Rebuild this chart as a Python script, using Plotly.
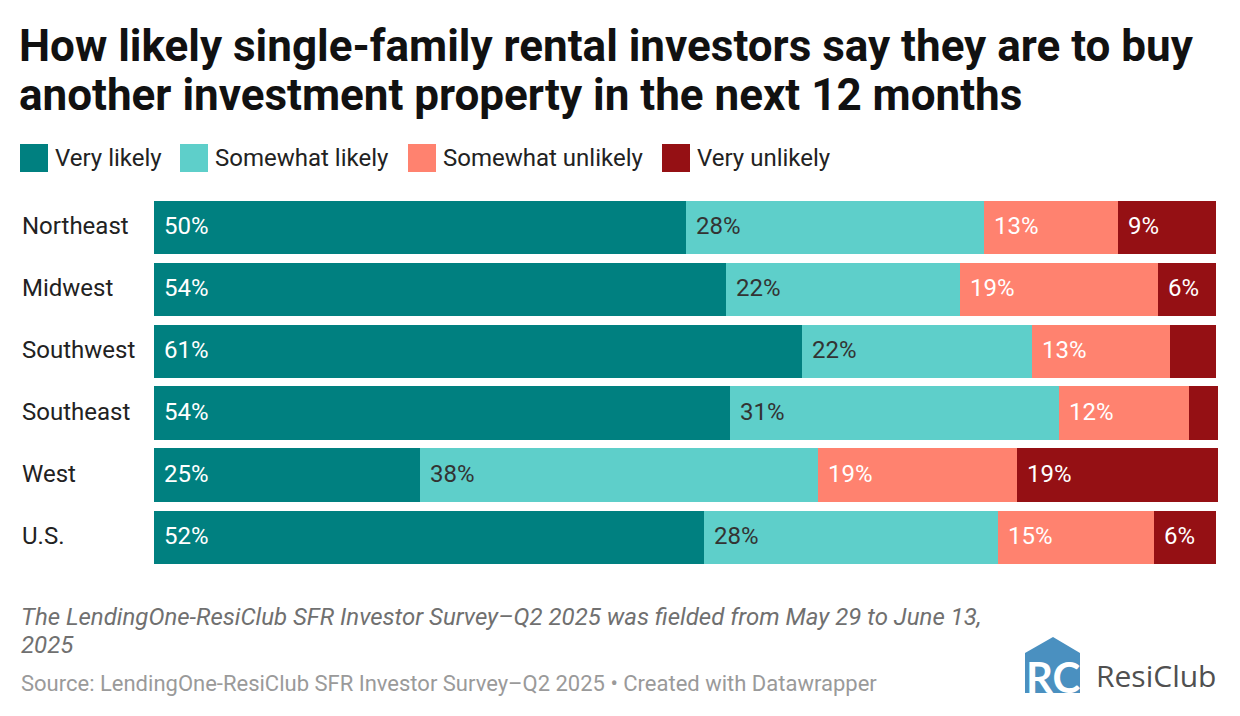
import plotly.graph_objects as go

# data
regions = ["Northeast", "Midwest", "Southwest", "Southeast", "West", "U.S."]
series_names = ["Very likely", "Somewhat likely", "Somewhat unlikely", "Very unlikely"]
very_likely = [50.1, 53.9, 61.0, 54.2, 25.0, 51.8]
somewhat_likely = [28.1, 22.0, 21.7, 31.0, 37.5, 27.7]
somewhat_unlikely = [12.6, 18.6, 13.0, 12.3, 18.8, 14.7]
very_unlikely = [9.2, 5.5, 4.3, 2.7, 18.9, 5.8]

colors = ["#008080", "#5ecfca", "#ff826f", "#951014"]
label_colors = ["#ffffff", "#333333", "#ffffff", "#ffffff"]

title_lines = ["How likely single-family rental investors say they are to buy",
               "another investment property in the next 12 months"]
note_lines = ["The LendingOne-ResiClub SFR Investor Survey\u2013Q2 2025 was fielded from May 29 to June 13,",
              "2025"]
source = "Source: LendingOne-ResiClub SFR Investor Survey\u2013Q2 2025 \u2022 Created with Datawrapper"

FONT = "Roboto"

# the page has an 8px body margin, so the figure sits at (8, 8)
OFF = 8
FIG_W, FIG_H = 1240 - OFF, 716 - OFF

# plot area in page pixels (100% ends at 1216, a few bars run 2px past it)
L, R, T, B = 154, 1218, 196, 568
X_MAX = 100 * (R - L) / (1216 - L)


def px(x):
    return (x - L) / (R - L)


def py(y):
    return (B - y) / (B - T)


all_series = [very_likely, somewhat_likely, somewhat_unlikely, very_unlikely]

fig = go.Figure()
for name, vals, col in zip(series_names, all_series, colors):
    fig.add_trace(go.Bar(
        y=regions, x=vals, name=name, orientation="h",
        marker=dict(color=col, line=dict(width=0)),
        hoverinfo="skip", showlegend=False,
    ))

annotations = []


def text(x, y, s, size, color, family=FONT, anchor="left"):
    annotations.append(dict(
        x=px(x), y=py(y), xref="paper", yref="paper", text=s,
        showarrow=False, xanchor=anchor, yanchor="middle", align="left",
        font=dict(family=family, size=size, color=color),
    ))


# value labels at left of each segment
for i, region in enumerate(regions):
    start = 0
    for s, vals in enumerate(all_series):
        v = vals[i]
        if v >= 5:
            annotations.append(dict(
                x=start, y=region, xref="x", yref="y", text=f"{v:.0f}%",
                showarrow=False, xanchor="left", xshift=8, yshift=1,
                font=dict(family=FONT, size=24, color=label_colors[s]),
            ))
        start += v

# category labels (left aligned)
for region in regions:
    annotations.append(dict(
        x=px(20), y=region, xref="paper", yref="y", text=region,
        showarrow=False, xanchor="left", yshift=1,
        font=dict(family=FONT, size=24, color="#222222"),
    ))

# title
text(17, 46, f"<b>{title_lines[0]}</b>", 44, "#111111")
text(17, 95, f"<b>{title_lines[1]}</b>", 44, "#111111")

# legend
legend_x = [20, 180, 408, 662]
shapes = []
for name, col, lx in zip(series_names, colors, legend_x):
    shapes.append(dict(
        type="rect", xref="paper", yref="paper",
        x0=px(lx), x1=px(lx + 28), y0=py(172), y1=py(144),
        fillcolor=col, line=dict(width=0),
    ))
    text(lx + 33, 158, name, 24, "#222222")

# notes and source
text(19, 617, f"<i>{note_lines[0]}</i>", 24, "#707070")
text(19, 645, f"<i>{note_lines[1]}</i>", 24, "#707070")
text(19, 683, source, 22, "#9a9a9a")

# ResiClub logo
def pp(x, y):
    return f"{px(x):.5f},{py(y):.5f}"


house = (f"M {pp(1025, 653)} L {pp(1053, 637)} L {pp(1080, 653)} "
         f"L {pp(1080, 693)} L {pp(1025, 693)} Z")
shapes.append(dict(type="path", xref="paper", yref="paper", path=house,
                   fillcolor="#4a90c0", line=dict(width=0)))
text(1053, 677, "<b>RC</b>", 42, "#ffffff", family="Lato", anchor="center")
text(1094, 675, "ResiClub", 30, "#505050", family="Open Sans")

fig.update_layout(
    barmode="stack",
    bargap=0.145,
    width=FIG_W, height=FIG_H,
    margin=dict(l=L - OFF, r=1240 - R, t=T - OFF, b=716 - B, pad=0),
    paper_bgcolor="white", plot_bgcolor="white",
    xaxis=dict(range=[0, X_MAX], visible=False, fixedrange=True),
    yaxis=dict(autorange="reversed", visible=False, fixedrange=True),
    annotations=annotations,
    shapes=shapes,
    showlegend=False,
)

fig.write_html("out.html", config={"displayModeBar": False})
